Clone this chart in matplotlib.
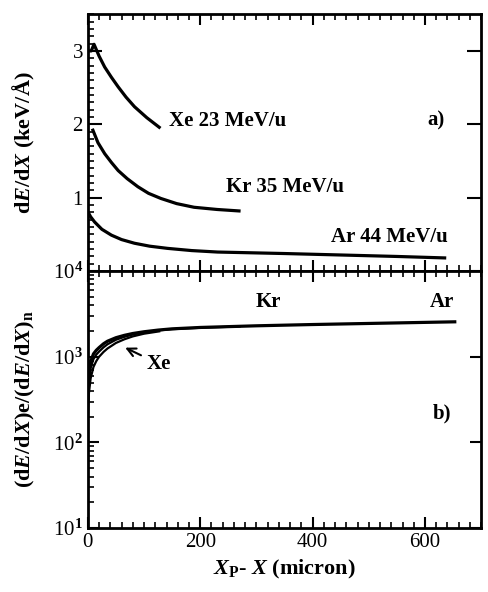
import matplotlib
matplotlib.use("Agg")
import matplotlib.pyplot as plt
from matplotlib.ticker import MultipleLocator, LogLocator, NullFormatter, FixedLocator

plt.rcParams['font.family'] = ['Liberation Serif', 'DejaVu Serif']
plt.rcParams['mathtext.fontset'] = 'custom'
plt.rcParams['mathtext.rm'] = 'Liberation Serif:bold'
plt.rcParams['mathtext.it'] = 'Liberation Serif:bold:italic'
plt.rcParams['mathtext.bf'] = 'Liberation Serif:bold'

# panel a) stopping power (keV/A) vs residual range (micron)
xe_a_x = [0, 6, 11, 20, 30, 42, 54, 68, 83, 105, 127]
xe_a_y = [3.0, 3.0, 3.09, 2.93, 2.78, 2.64, 2.51, 2.37, 2.24, 2.09, 1.96]
kr_a_x = [9, 18, 30, 42, 54, 70, 89, 108, 130, 158, 189, 230, 269]
kr_a_y = [1.92, 1.75, 1.60, 1.48, 1.37, 1.26, 1.15, 1.06, 0.99, 0.92, 0.87, 0.84, 0.82]
ar_a_x = [0, 5, 12, 25, 42, 60, 83, 110, 142, 185, 231, 290, 349, 450, 550, 635]
ar_a_y = [0.81, 0.74, 0.67, 0.57, 0.49, 0.43, 0.38, 0.34, 0.31, 0.28, 0.26, 0.25, 0.24, 0.22, 0.20, 0.18]

# panel b) ratio electronic / nuclear stopping
ar_b_x = [0, 2, 5, 10, 15, 20, 28, 35, 50, 65, 80, 100, 125, 150, 200, 300, 400, 500, 653]
ar_b_y = [320, 620, 880, 1080, 1190, 1280, 1420, 1520, 1670, 1780, 1870, 1960, 2050, 2120, 2200, 2300, 2380, 2450, 2560]
kr_b_x = [0, 2, 5, 10, 15, 20, 28, 35, 50, 65, 80, 100, 125, 150, 200, 270]
kr_b_y = [260, 500, 740, 940, 1060, 1150, 1290, 1400, 1580, 1710, 1820, 1930, 2030, 2100, 2180, 2260]
xe_b_x = [0, 2, 5, 10, 15, 20, 28, 35, 50, 65, 80, 100, 127]
xe_b_y = [200, 380, 560, 760, 890, 1000, 1140, 1250, 1450, 1600, 1730, 1860, 1980]

fig = plt.figure(figsize=(4.88, 5.92), dpi=100)
ax1 = fig.add_axes([0.180, 0.542, 0.806, 0.434])
ax2 = fig.add_axes([0.180, 0.108, 0.806, 0.434])

lw = 2.3
ax1.plot(xe_a_x, xe_a_y, color='black', lw=lw)
ax1.plot(kr_a_x, kr_a_y, color='black', lw=lw)
ax1.plot(ar_a_x, ar_a_y, color='black', lw=lw)
ax1.set_xlim(0, 700)
ax1.set_ylim(0, 3.5)

ax2.plot(ar_b_x, ar_b_y, color='black', lw=lw)
ax2.plot(kr_b_x, kr_b_y, color='black', lw=1.6)
ax2.plot(xe_b_x, xe_b_y, color='black', lw=1.6)
ax2.set_yscale('log')
ax2.set_xlim(0, 700)
ax2.set_ylim(10, 1e4)

tf = dict(fontsize=15, fontweight='bold')
ax1.text(145, 2.05, 'Xe 23 MeV/u', va='center', **tf)
ax1.text(246, 1.14, 'Kr 35 MeV/u', va='center', **tf)
ax1.text(432, 0.46, 'Ar 44 MeV/u', va='center', **tf)
ax1.text(605, 2.05, 'a)', va='center', **tf)

ax2.text(299, 4400, 'Kr', va='center', **tf)
ax2.text(608, 4400, 'Ar', va='center', **tf)
ax2.text(614, 220, 'b)', va='center', **tf)
ax2.annotate('Xe', xy=(62, 1320), xytext=(104, 830), va='center', **tf,
             arrowprops=dict(arrowstyle='->', color='black', lw=1.5))

for ax in (ax1, ax2):
    for s in ax.spines.values():
        s.set_linewidth(2)
    ax.xaxis.set_major_locator(MultipleLocator(200))
    ax.xaxis.set_minor_locator(MultipleLocator(20))
    ax.tick_params(which='major', direction='in', length=8, width=1.5, labelsize=15)
    ax.tick_params(which='minor', direction='in', length=4, width=1.2)
    ax.tick_params(axis='x', which='both', top=True)
    ax.tick_params(axis='y', which='major', right=True)

ax1.tick_params(axis='x', labelbottom=False)
ax1.yaxis.set_major_locator(FixedLocator([1, 2, 3]))
ax1.yaxis.set_minor_locator(MultipleLocator(0.1))
ax1.tick_params(axis='y', which='major', length=10)

ax2.yaxis.set_minor_locator(LogLocator(base=10, subs=range(2, 10), numticks=20))
ax2.yaxis.set_minor_formatter(NullFormatter())
ax2.set_yticks([10, 100, 1000, 10000])
ax2.set_yticklabels(['10$^1$', '10$^2$', '10$^3$', '10$^4$'])

ax1.set_ylabel('d$E$/d$X$ (keV/Å)', fontsize=16, fontweight='bold', labelpad=4)
ax2.set_ylabel('(d$E$/d$X$)e/(d$E$/d$X$)$_\\mathrm{n}$', fontsize=16, fontweight='bold', labelpad=2)
ax2.set_xlabel('$X_\\mathrm{P}$- $X$ (micron)', fontsize=16, fontweight='bold')
ax1.yaxis.set_label_coords(-0.13, 0.5)
ax2.yaxis.set_label_coords(-0.13, 0.5)

fig.savefig('out.png', dpi=100)
